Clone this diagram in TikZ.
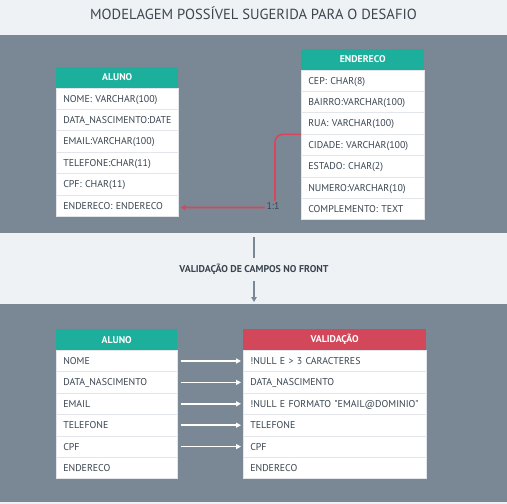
\documentclass[tikz,border=0pt]{standalone}
\usepackage{fontspec}
\usetikzlibrary{arrows.meta}
\newfontfamily\dinfont{PT Sans}

\definecolor{bandgray}{HTML}{7A8896}
\definecolor{bandlight}{HTML}{EFF2F5}
\definecolor{tealhead}{HTML}{1BAF9C}
\definecolor{redhead}{HTML}{D24759}
\definecolor{linkred}{HTML}{D8465C}
\definecolor{rowtext}{HTML}{3A4550}
\definecolor{rowline}{HTML}{E2E6EA}
\definecolor{titletext}{HTML}{3B4651}

\tikzset{
  head/.style={anchor=north west, minimum height=21pt, inner sep=0pt, text=white,
    font=\dinfont\bfseries\fontsize{9.8}{11}\selectfont},
  field/.style={anchor=north west, fill=white, draw=rowline, line width=0.6pt,
    minimum height=21.4pt, inner xsep=7pt, inner ysep=0pt, text width=#1,
    align=left, text=rowtext, text height=7pt, text depth=0pt,
    font=\dinfont\fontsize{9.9}{11}\selectfont},
  link/.style={linkred, line width=1.6pt, rounded corners=8pt,
    -{Triangle[length=5pt,width=5pt]}},
  check/.style={white, line width=1.5pt, -{Triangle[length=5pt,width=5pt]}},
  flow/.style={bandgray, line width=1.5pt},
}

\begin{document}
\begin{tikzpicture}[x=1pt,y=-1pt]
  \useasboundingbox (0,0) rectangle (507,504);
  % bands
  \fill[bandlight] (0,0) rectangle (507,504);
  \fill[bandgray] (0,34.5) rectangle (507,233);
  \fill[bandgray] (0,304) rectangle (507,502);
  \node[font=\dinfont\fontsize{14.6}{17}\selectfont, text=titletext] (title) at (253.5,13.5)
    {MODELAGEM POSSÍVEL SUGERIDA PARA O DESAFIO};

  % modelo
  \node[head, fill=tealhead, minimum width=122pt] (alunoA-0) at (56,66.5) {ALUNO};
  \foreach \txt [count=\i] in {NOME: VARCHAR(100), DATA\_NASCIMENTO:DATE,
      EMAIL:VARCHAR(100), TELEFONE:CHAR(11), CPF: CHAR(11), ENDERECO: ENDERECO}
    \node[field=108pt] (alunoA-\i) at (56,{87.5+(\i-1)*21.4}) {\txt};

  \node[head, fill=tealhead, minimum width=123pt] (endereco-0) at (301,48.5) {ENDERECO};
  \foreach \txt [count=\i] in {CEP: CHAR(8), BAIRRO:VARCHAR(100), RUA: VARCHAR(100),
      CIDADE: VARCHAR(100), ESTADO: CHAR(2), NUMERO:VARCHAR(10), COMPLEMENTO: TEXT}
    \node[field=109pt] (endereco-\i) at (301,{69.5+(\i-1)*21.4}) {\txt};

  \coordinate (bend) at (275,207.5);
  \draw[link, shorten >=2pt] (endereco-3.south west) -| (bend) -- (bend -| alunoA-6.east);
  \node[fill=bandgray, inner sep=1.5pt, text=rowtext,
    font=\dinfont\fontsize{9.9}{11}\selectfont] (card) at (273,206) {1:1};

  % validacao
  \coordinate (flowtop) at (254,237);
  \coordinate (flowend) at (254,302);
  \node[font=\dinfont\bfseries\fontsize{9.9}{11}\selectfont, text=titletext,
    inner sep=6pt] (front) at (254,269) {VALIDAÇÃO DE CAMPOS NO FRONT};
  \draw[flow] (flowtop) -- (front);
  \draw[flow, -{Triangle[length=5pt,width=5.5pt]}] (front) -- (flowend);

  \node[head, fill=tealhead, minimum width=121pt] (alunoB-0) at (56,329) {ALUNO};
  \foreach \txt [count=\i] in {NOME, DATA\_NASCIMENTO, EMAIL, TELEFONE, CPF, ENDERECO}
    \node[field=107pt] (alunoB-\i) at (56,{350+(\i-1)*21.4}) {\txt};

  \node[head, fill=redhead, minimum width=183pt] (validacao-0) at (243,329) {VALIDAÇÃO};
  \foreach \txt [count=\i] in {!NULL E > 3 CARACTERES, DATA\_NASCIMENTO,
      !NULL E FORMATO "EMAIL@DOMINIO", TELEFONE, CPF, ENDERECO}
    \node[field=169pt] (validacao-\i) at (243,{350+(\i-1)*21.4}) {\txt};

  \foreach \i in {1,...,5}
    \draw[check, shorten <=3pt, shorten >=2pt] (alunoB-\i.east) -- (validacao-\i.west);
\end{tikzpicture}
\end{document}
